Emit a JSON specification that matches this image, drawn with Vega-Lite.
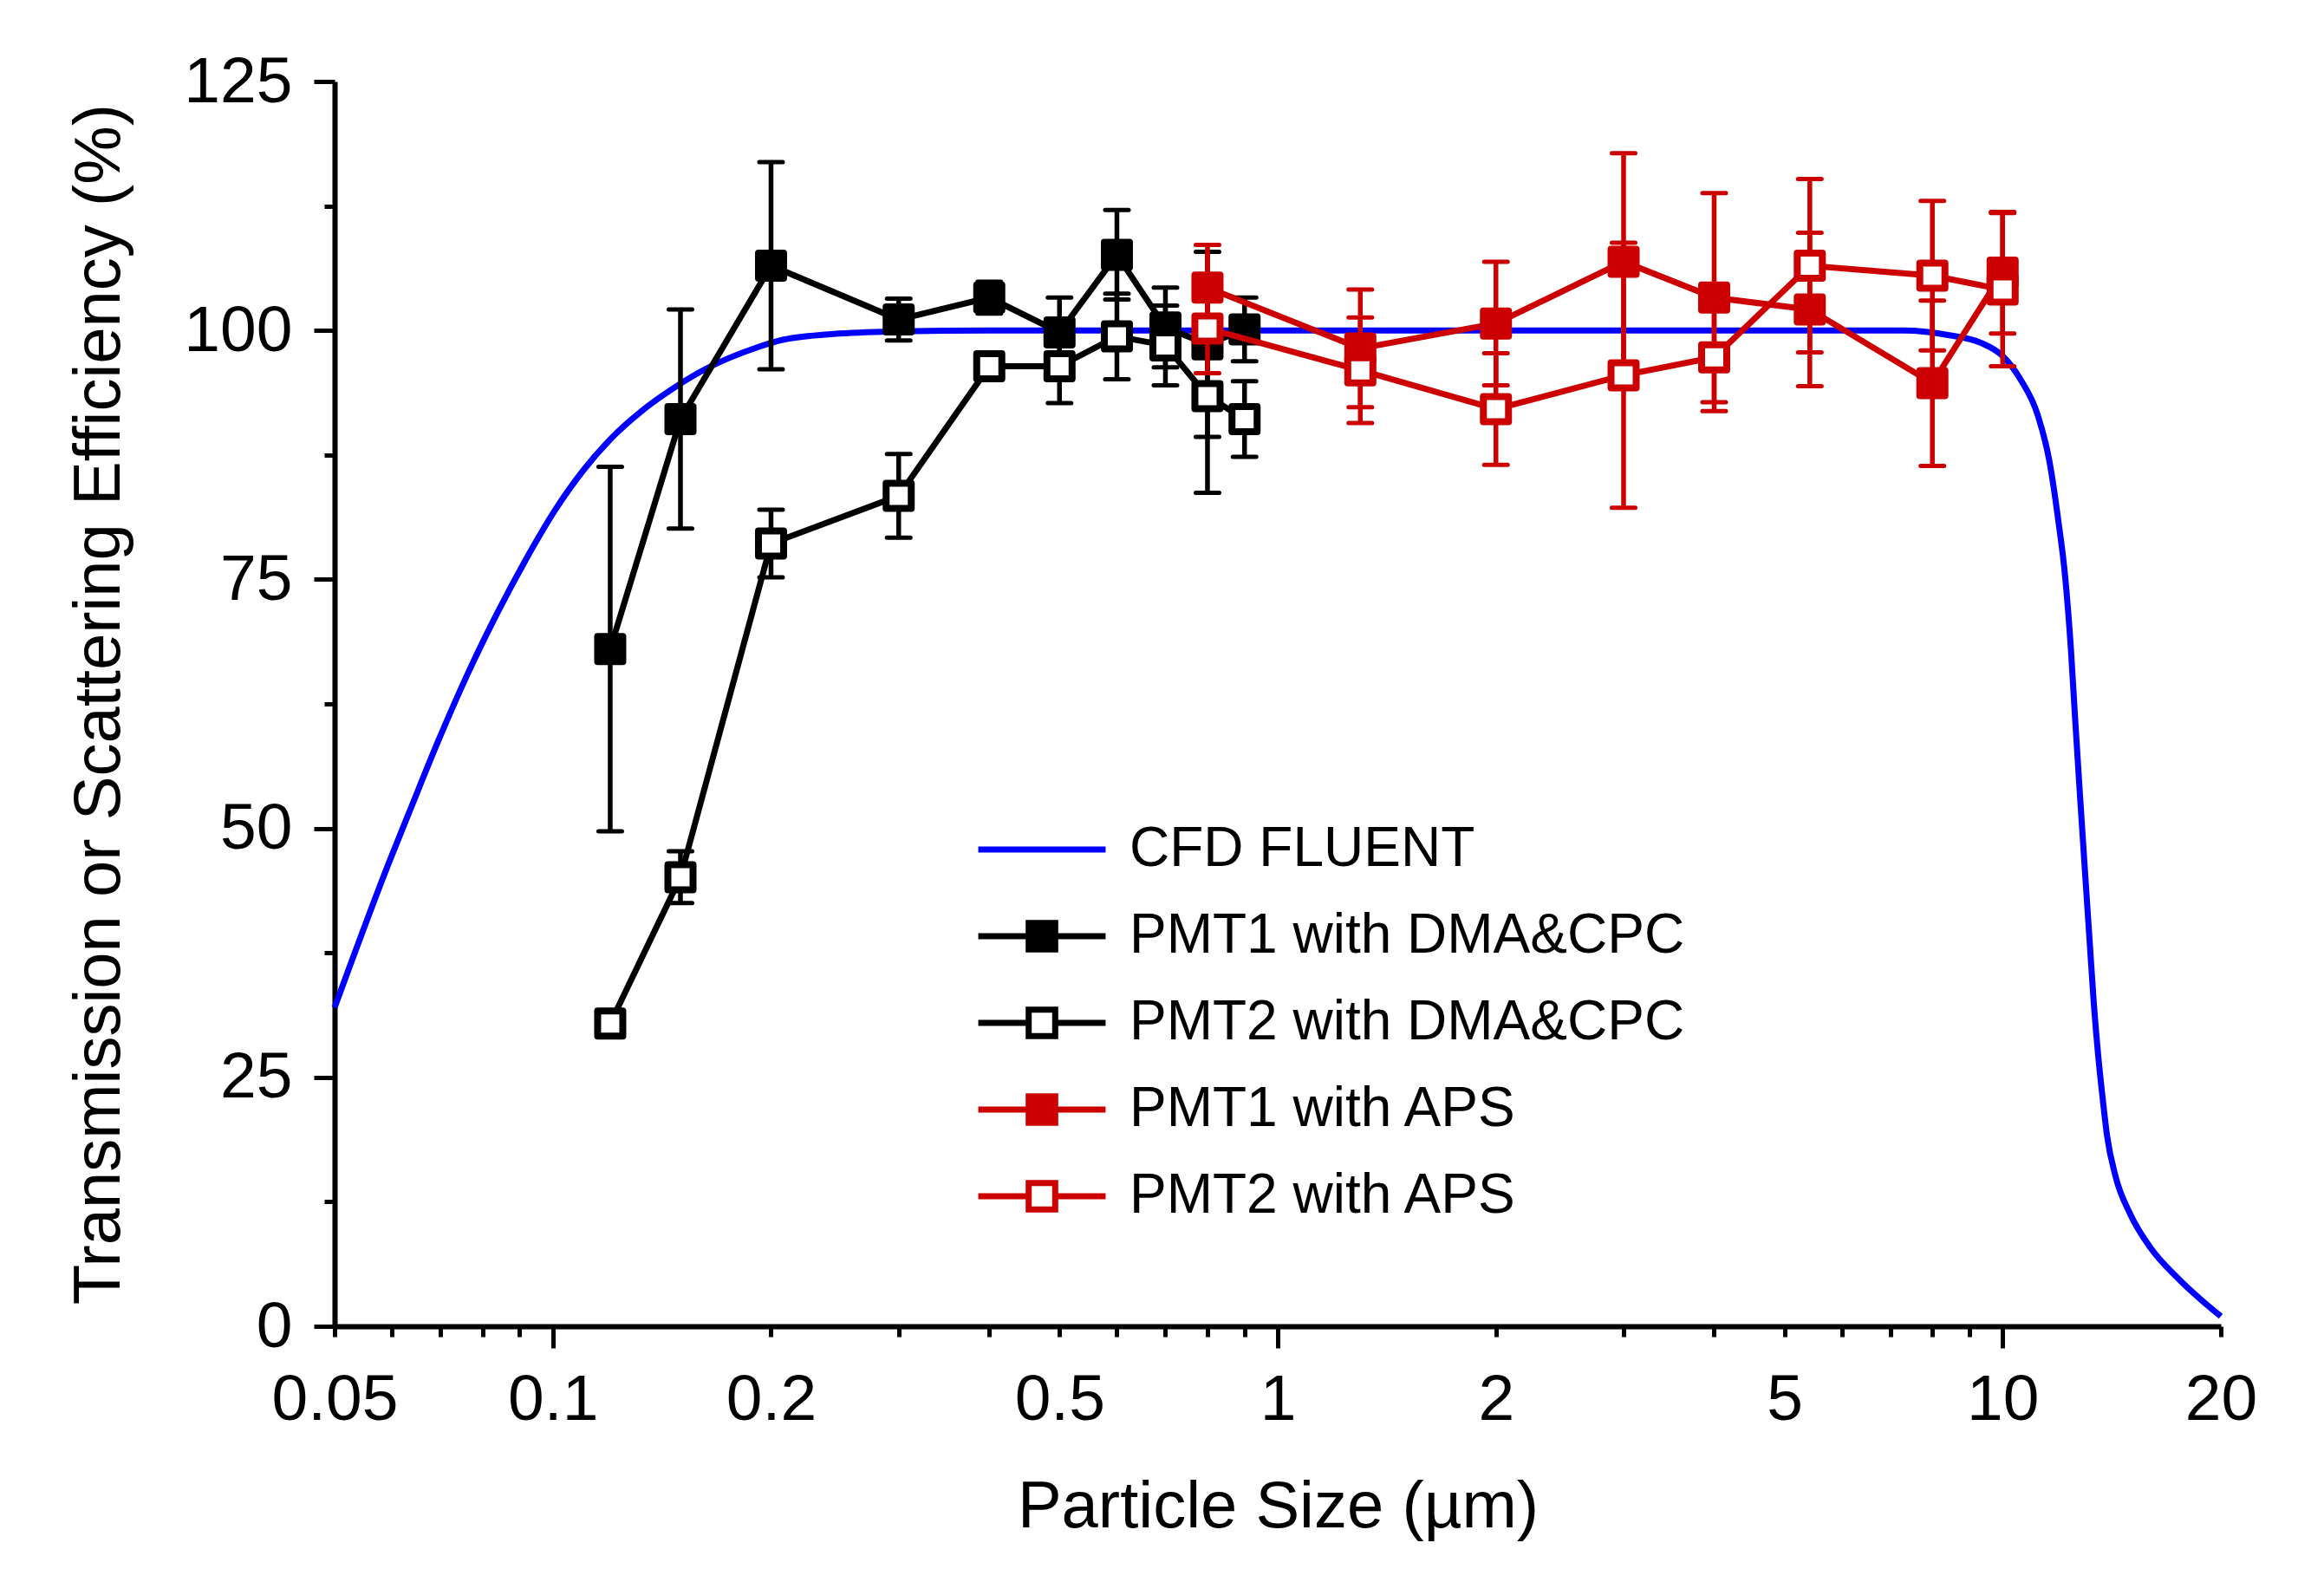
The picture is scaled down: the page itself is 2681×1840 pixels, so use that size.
{
  "$schema": "https://vega.github.io/schema/vega-lite/v6.json",
  "width": 2176,
  "height": 1436,
  "autosize": {"type": "none"},
  "padding": {"left": 386, "top": 94, "right": 119, "bottom": 310},
  "background": "white",
  "resolve": {"axis": {"x": "independent", "y": "independent"}},
  "config": {
    "view": {"stroke": null},
    "font": "Liberation Sans",
    "axis": {
      "grid": false,
      "domainColor": "black",
      "domainWidth": 6,
      "tickColor": "black",
      "tickWidth": 5,
      "labelColor": "black",
      "labelFont": "Liberation Sans",
      "labelFontSize": 75,
      "titleFont": "Liberation Sans",
      "titleFontSize": 76,
      "titleFontWeight": "normal",
      "titleColor": "black"
    },
    "legend": {
      "orient": "none",
      "legendX": 784,
      "legendY": 854,
      "padding": 0,
      "labelFont": "Liberation Sans",
      "labelFontSize": 64,
      "labelColor": "black",
      "labelLimit": 0,
      "symbolSize": 1369,
      "symbolStrokeWidth": 7,
      "labelOffset": 69,
      "rowPadding": 36
    }
  },
  "data": {
    "values": [
      {"series": "CFD FLUENT", "x": 0.05, "y": 32.0},
      {"series": "CFD FLUENT", "x": 0.0596, "y": 46.8},
      {"series": "CFD FLUENT", "x": 0.0636, "y": 51.9},
      {"series": "CFD FLUENT", "x": 0.0697, "y": 59.0},
      {"series": "CFD FLUENT", "x": 0.0764, "y": 65.6},
      {"series": "CFD FLUENT", "x": 0.0838, "y": 71.6},
      {"series": "CFD FLUENT", "x": 0.0918, "y": 77.0},
      {"series": "CFD FLUENT", "x": 0.1006, "y": 81.9},
      {"series": "CFD FLUENT", "x": 0.1103, "y": 86.0},
      {"series": "CFD FLUENT", "x": 0.1209, "y": 89.3},
      {"series": "CFD FLUENT", "x": 0.1326, "y": 91.9},
      {"series": "CFD FLUENT", "x": 0.1453, "y": 94.0},
      {"series": "CFD FLUENT", "x": 0.1593, "y": 95.8},
      {"series": "CFD FLUENT", "x": 0.1746, "y": 97.2},
      {"series": "CFD FLUENT", "x": 0.1914, "y": 98.3},
      {"series": "CFD FLUENT", "x": 0.206, "y": 99.0},
      {"series": "CFD FLUENT", "x": 0.24, "y": 99.6},
      {"series": "CFD FLUENT", "x": 0.3, "y": 99.9},
      {"series": "CFD FLUENT", "x": 0.4, "y": 100},
      {"series": "CFD FLUENT", "x": 7.3, "y": 100},
      {"series": "CFD FLUENT", "x": 8.48, "y": 99.5},
      {"series": "CFD FLUENT", "x": 9.3, "y": 98.8},
      {"series": "CFD FLUENT", "x": 10.01, "y": 97.4},
      {"series": "CFD FLUENT", "x": 10.58, "y": 95.1},
      {"series": "CFD FLUENT", "x": 11.18, "y": 91.5},
      {"series": "CFD FLUENT", "x": 11.6, "y": 86.9},
      {"series": "CFD FLUENT", "x": 11.92, "y": 81.2},
      {"series": "CFD FLUENT", "x": 12.2, "y": 75.2},
      {"series": "CFD FLUENT", "x": 12.42, "y": 68.1},
      {"series": "CFD FLUENT", "x": 12.59, "y": 61.0},
      {"series": "CFD FLUENT", "x": 12.77, "y": 53.9},
      {"series": "CFD FLUENT", "x": 12.97, "y": 46.4},
      {"series": "CFD FLUENT", "x": 13.18, "y": 38.8},
      {"series": "CFD FLUENT", "x": 13.36, "y": 32.4},
      {"series": "CFD FLUENT", "x": 13.55, "y": 27.1},
      {"series": "CFD FLUENT", "x": 13.74, "y": 22.9},
      {"series": "CFD FLUENT", "x": 13.93, "y": 19.2},
      {"series": "CFD FLUENT", "x": 14.32, "y": 15.0},
      {"series": "CFD FLUENT", "x": 14.99, "y": 11.3},
      {"series": "CFD FLUENT", "x": 15.99, "y": 7.9},
      {"series": "CFD FLUENT", "x": 17.52, "y": 4.7},
      {"series": "CFD FLUENT", "x": 20, "y": 1.0},

      {"series": "PMT1 with DMA&CPC", "x": 0.12, "y": 68.0, "lo": 49.7, "hi": 86.3},
      {"series": "PMT1 with DMA&CPC", "x": 0.15, "y": 91.1, "lo": 80.1, "hi": 102.1},
      {"series": "PMT1 with DMA&CPC", "x": 0.2, "y": 106.5, "lo": 96.1, "hi": 116.9},
      {"series": "PMT1 with DMA&CPC", "x": 0.3, "y": 101.1, "lo": 99.0, "hi": 103.2},
      {"series": "PMT1 with DMA&CPC", "x": 0.4, "y": 103.3, "lo": 101.7, "hi": 104.9},
      {"series": "PMT1 with DMA&CPC", "x": 0.5, "y": 99.8, "lo": 96.3, "hi": 103.3},
      {"series": "PMT1 with DMA&CPC", "x": 0.6, "y": 107.6, "lo": 103.1, "hi": 112.1},
      {"series": "PMT1 with DMA&CPC", "x": 0.7, "y": 100.3, "lo": 96.3, "hi": 104.3},
      {"series": "PMT1 with DMA&CPC", "x": 0.8, "y": 98.6, "lo": 89.3, "hi": 107.9},
      {"series": "PMT1 with DMA&CPC", "x": 0.9, "y": 100.1, "lo": 96.9, "hi": 103.3},

      {"series": "PMT2 with DMA&CPC", "x": 0.12, "y": 30.4, "lo": 29.6, "hi": 31.2},
      {"series": "PMT2 with DMA&CPC", "x": 0.15, "y": 45.1, "lo": 42.5, "hi": 47.7},
      {"series": "PMT2 with DMA&CPC", "x": 0.2, "y": 78.6, "lo": 75.2, "hi": 82.0},
      {"series": "PMT2 with DMA&CPC", "x": 0.3, "y": 83.4, "lo": 79.2, "hi": 87.6},
      {"series": "PMT2 with DMA&CPC", "x": 0.4, "y": 96.4, "lo": 95.6, "hi": 97.2},
      {"series": "PMT2 with DMA&CPC", "x": 0.5, "y": 96.4, "lo": 92.7, "hi": 100.1},
      {"series": "PMT2 with DMA&CPC", "x": 0.6, "y": 99.4, "lo": 95.1, "hi": 103.7},
      {"series": "PMT2 with DMA&CPC", "x": 0.7, "y": 98.5, "lo": 94.5, "hi": 102.5},
      {"series": "PMT2 with DMA&CPC", "x": 0.8, "y": 93.4, "lo": 83.7, "hi": 103.1},
      {"series": "PMT2 with DMA&CPC", "x": 0.9, "y": 91.1, "lo": 87.3, "hi": 94.9},

      {"series": "PMT1 with APS", "x": 0.8, "y": 104.3, "lo": 100.0, "hi": 108.6},
      {"series": "PMT1 with APS", "x": 1.3, "y": 98.2, "lo": 92.3, "hi": 104.1},
      {"series": "PMT1 with APS", "x": 2.0, "y": 100.7, "lo": 94.5, "hi": 106.9},
      {"series": "PMT1 with APS", "x": 3.0, "y": 106.9, "lo": 96.0, "hi": 117.8},
      {"series": "PMT1 with APS", "x": 4.0, "y": 103.3, "lo": 92.8, "hi": 113.8},
      {"series": "PMT1 with APS", "x": 5.42, "y": 102.1, "lo": 94.4, "hi": 109.8},
      {"series": "PMT1 with APS", "x": 8.0, "y": 94.7, "lo": 86.4, "hi": 103.0},
      {"series": "PMT1 with APS", "x": 10.0, "y": 105.8, "lo": 99.7, "hi": 111.9},

      {"series": "PMT2 with APS", "x": 0.8, "y": 100.2, "lo": 95.7, "hi": 104.7},
      {"series": "PMT2 with APS", "x": 1.3, "y": 96.0, "lo": 90.7, "hi": 101.3},
      {"series": "PMT2 with APS", "x": 2.0, "y": 92.1, "lo": 86.5, "hi": 97.7},
      {"series": "PMT2 with APS", "x": 3.0, "y": 95.5, "lo": 82.2, "hi": 108.8},
      {"series": "PMT2 with APS", "x": 4.0, "y": 97.3, "lo": 91.9, "hi": 102.7},
      {"series": "PMT2 with APS", "x": 5.42, "y": 106.5, "lo": 97.8, "hi": 115.2},
      {"series": "PMT2 with APS", "x": 8.0, "y": 105.5, "lo": 98.0, "hi": 113.0},
      {"series": "PMT2 with APS", "x": 10.0, "y": 104.1, "lo": 96.4, "hi": 111.8}
    ]
  },
  "layer": [
    {
      "transform": [{"filter": "datum.series == 'CFD FLUENT'"}],
      "mark": {"type": "line", "strokeWidth": 7, "interpolate": "monotone"},
      "encoding": {
        "x": {
          "field": "x", "type": "quantitative",
          "scale": {"type": "log", "domain": [0.05, 20], "nice": false},
          "axis": {
            "orient": "bottom",
            "values": [0.05, 0.06, 0.07, 0.08, 0.09, 0.1, 0.2, 0.3, 0.4, 0.5, 0.6, 0.7, 0.8, 0.9, 1, 2, 3, 4, 5, 6, 7, 8, 9, 10, 20],
            "format": "~g",
            "labelExpr": "indexof([0.05, 0.1, 0.2, 0.5, 1, 2, 5, 10, 20], datum.value) >= 0 ? datum.label : ''",
            "tickSize": 12,
            "labelOverlap": false,
            "labelFlush": false,
            "labelBound": false,
            "labelBaseline": "alphabetic",
            "labelPadding": 95,
            "title": "Particle Size (µm)",
            "titleX": 1088,
            "titleY": 231,
            "titleBaseline": "alphabetic",
            "titleAlign": "center",
            "titleAnchor": "start"
          }
        },
        "y": {
          "field": "y", "type": "quantitative",
          "scale": {"domain": [0, 125], "nice": false, "zero": false},
          "axis": {
            "orient": "left",
            "values": [0, 25, 50, 75, 100, 125],
            "tickSize": 24,
            "labelPadding": 25,
            "labelBaseline": "middle",
            "labelOverlap": false,
            "labelFlush": false,
            "labelBound": false,
            "title": "Transmission or Scattering Efficiency (%)",
            "titleX": -249,
            "titleY": 718,
            "titleAngle": -90,
            "titleBaseline": "alphabetic",
            "titleAlign": "center",
            "titleAnchor": "start"
          }
        },
        "stroke": {
          "field": "series", "type": "nominal", "title": null,
          "scale": {
            "domain": ["CFD FLUENT", "PMT1 with DMA&CPC", "PMT2 with DMA&CPC", "PMT1 with APS", "PMT2 with APS"],
            "range": ["#0000FF", "#000000", "#000000", "#CC0000", "#CC0000"]
          }
        }
      }
    },
    {
      "transform": [{"filter": "datum.series == 'PMT1 with DMA&CPC' || datum.series == 'PMT2 with DMA&CPC'"}],
      "layer": [
        {
          "mark": {"type": "rule", "strokeWidth": 5.5},
          "encoding": {
            "x": {"field": "x", "type": "quantitative", "axis": null},
            "y": {"field": "lo", "type": "quantitative", "axis": null},
            "y2": {"field": "hi"},
            "stroke": {"field": "series", "type": "nominal", "title": null}
          }
        },
        {
          "mark": {"type": "rule", "strokeWidth": 5, "strokeCap": "round", "xOffset": -13.5, "x2Offset": 13.5},
          "encoding": {
            "x": {"field": "x", "type": "quantitative", "axis": null},
            "x2": {"field": "x"},
            "y": {"field": "lo", "type": "quantitative", "axis": null},
            "stroke": {"field": "series", "type": "nominal", "title": null}
          }
        },
        {
          "mark": {"type": "rule", "strokeWidth": 5, "strokeCap": "round", "xOffset": -13.5, "x2Offset": 13.5},
          "encoding": {
            "x": {"field": "x", "type": "quantitative", "axis": null},
            "x2": {"field": "x"},
            "y": {"field": "hi", "type": "quantitative", "axis": null},
            "stroke": {"field": "series", "type": "nominal", "title": null}
          }
        },
        {
          "mark": {"type": "line", "strokeWidth": 7},
          "encoding": {
            "x": {"field": "x", "type": "quantitative", "axis": null},
            "y": {"field": "y", "type": "quantitative", "axis": null},
            "stroke": {"field": "series", "type": "nominal", "title": null}
          }
        },
        {
          "mark": {"type": "point", "shape": "square", "size": 841, "strokeWidth": 8, "strokeJoin": "round", "opacity": 1},
          "encoding": {
            "x": {"field": "x", "type": "quantitative", "axis": null},
            "y": {"field": "y", "type": "quantitative", "axis": null},
            "stroke": {"field": "series", "type": "nominal", "title": null},
            "fill": {
              "field": "series", "type": "nominal", "title": null,
              "scale": {
                "domain": ["CFD FLUENT", "PMT1 with DMA&CPC", "PMT2 with DMA&CPC", "PMT1 with APS", "PMT2 with APS"],
                "range": ["#FFFFFF", "#000000", "#FFFFFF", "#CC0000", "#FFFFFF"]
              }
            }
          }
        }
      ]
    },
    {
      "transform": [{"filter": "datum.series == 'PMT1 with APS' || datum.series == 'PMT2 with APS'"}],
      "layer": [
        {
          "mark": {"type": "rule", "strokeWidth": 5.5},
          "encoding": {
            "x": {"field": "x", "type": "quantitative", "axis": null},
            "y": {"field": "lo", "type": "quantitative", "axis": null},
            "y2": {"field": "hi"},
            "stroke": {"field": "series", "type": "nominal", "title": null}
          }
        },
        {
          "mark": {"type": "rule", "strokeWidth": 5, "strokeCap": "round", "xOffset": -13.5, "x2Offset": 13.5},
          "encoding": {
            "x": {"field": "x", "type": "quantitative", "axis": null},
            "x2": {"field": "x"},
            "y": {"field": "lo", "type": "quantitative", "axis": null},
            "stroke": {"field": "series", "type": "nominal", "title": null}
          }
        },
        {
          "mark": {"type": "rule", "strokeWidth": 5, "strokeCap": "round", "xOffset": -13.5, "x2Offset": 13.5},
          "encoding": {
            "x": {"field": "x", "type": "quantitative", "axis": null},
            "x2": {"field": "x"},
            "y": {"field": "hi", "type": "quantitative", "axis": null},
            "stroke": {"field": "series", "type": "nominal", "title": null}
          }
        },
        {
          "mark": {"type": "line", "strokeWidth": 7},
          "encoding": {
            "x": {"field": "x", "type": "quantitative", "axis": null},
            "y": {"field": "y", "type": "quantitative", "axis": null},
            "stroke": {"field": "series", "type": "nominal", "title": null}
          }
        },
        {
          "mark": {"type": "point", "shape": "square", "size": 841, "strokeWidth": 8, "strokeJoin": "round", "opacity": 1},
          "encoding": {
            "x": {"field": "x", "type": "quantitative", "axis": null},
            "y": {"field": "y", "type": "quantitative", "axis": null},
            "stroke": {"field": "series", "type": "nominal", "title": null},
            "fill": {"field": "series", "type": "nominal", "title": null}
          }
        }
      ]
    },
    {
      "transform": [{"filter": "datum.x < 0"}],
      "mark": {"type": "point", "strokeWidth": 7, "opacity": 1},
      "encoding": {
        "x": {
          "field": "x", "type": "quantitative",
          "axis": {
            "orient": "bottom",
            "values": [0.1, 1, 10],
            "tickSize": 25,
            "labels": false,
            "domain": false,
            "title": null
          }
        },
        "y": {
          "field": "y", "type": "quantitative",
          "axis": {
            "orient": "left",
            "values": [12.5, 37.5, 62.5, 87.5, 112.5],
            "tickSize": 12,
            "labels": false,
            "domain": false,
            "title": null
          }
        },
        "stroke": {"field": "series", "type": "nominal", "title": null},
        "fill": {"field": "series", "type": "nominal", "title": null},
        "shape": {
          "field": "series", "type": "nominal", "title": null,
          "scale": {
            "domain": ["CFD FLUENT", "PMT1 with DMA&CPC", "PMT2 with DMA&CPC", "PMT1 with APS", "PMT2 with APS"],
            "range": [
              "M-3.97,0H3.97",
              "M-3.97,0H-0.827M0.827,0H3.97M-0.827,-0.827H0.827V0.827H-0.827Z",
              "M-3.97,0H-0.827M0.827,0H3.97M-0.827,-0.827H0.827V0.827H-0.827Z",
              "M-3.97,0H-0.827M0.827,0H3.97M-0.827,-0.827H0.827V0.827H-0.827Z",
              "M-3.97,0H-0.827M0.827,0H3.97M-0.827,-0.827H0.827V0.827H-0.827Z"
            ]
          }
        }
      }
    }
  ]
}
